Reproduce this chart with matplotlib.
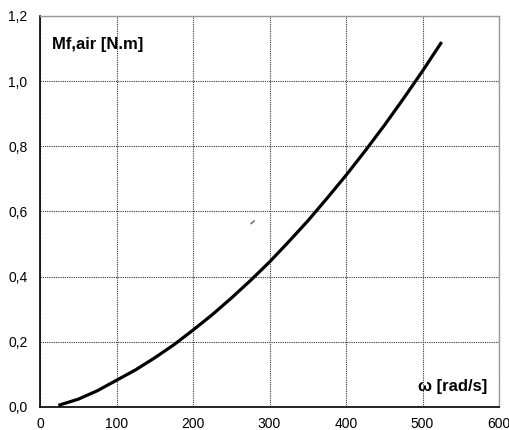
import matplotlib
matplotlib.use("Agg")
import matplotlib.pyplot as plt
from matplotlib.ticker import FuncFormatter

# data
omega = [24, 50, 75, 100, 125, 150, 175, 200, 225, 250, 275, 300, 325, 350,
         375, 400, 425, 450, 475, 500, 525]
mf_air = [0.005, 0.024, 0.050, 0.082, 0.114, 0.151, 0.191, 0.236, 0.283, 0.334,
          0.388, 0.445, 0.507, 0.571, 0.640, 0.711, 0.786, 0.864, 0.946, 1.031, 1.120]
stray_x = [276, 280]
stray_y = [0.563, 0.571]
x_ticks = [0, 100, 200, 300, 400, 500, 600]
y_ticks = [0.0, 0.2, 0.4, 0.6, 0.8, 1.0, 1.2]

plt.rcParams['font.family'] = ['Liberation Sans', 'DejaVu Sans']

fig = plt.figure(figsize=(5.1, 4.3), dpi=100)
ax = fig.add_axes([40/510, 1 - 407/430, 459/510, (407-16)/430])

ax.plot(omega, mf_air, color='black', lw=2.3, solid_capstyle='butt')
ax.plot(stray_x, stray_y, color='#777777', lw=1.2)

ax.set_xlim(0, 600)
ax.set_ylim(0, 1.2)
ax.set_xticks(x_ticks)
ax.set_yticks(y_ticks)
ax.yaxis.set_major_formatter(FuncFormatter(lambda v, p: f"{v:.1f}".replace('.', ',')))
ax.tick_params(length=0, labelsize=10, colors='black')
ax.tick_params(axis='y', pad=9)
ax.tick_params(axis='x', pad=7)

ax.grid(True, color='#333333', linestyle=(0, (1, 1)), lw=0.8)
ax.set_axisbelow(True)

for s in ['top', 'right']:
    ax.spines[s].set_color('#999999')
    ax.spines[s].set_linewidth(1.0)
for s in ['left', 'bottom']:
    ax.spines[s].set_color('black')
    ax.spines[s].set_linewidth(1.2)

ax.text(12/459, 1 - 29/391, 'Mf,air [N.m]', transform=ax.transAxes,
        fontsize=12, fontweight='bold', ha='left', va='center')
ax.text(447/459, 1 - 371/391, 'ω [rad/s]', transform=ax.transAxes,
        fontsize=12, fontweight='bold', ha='right', va='center')

fig.savefig('out.png', dpi=100)
